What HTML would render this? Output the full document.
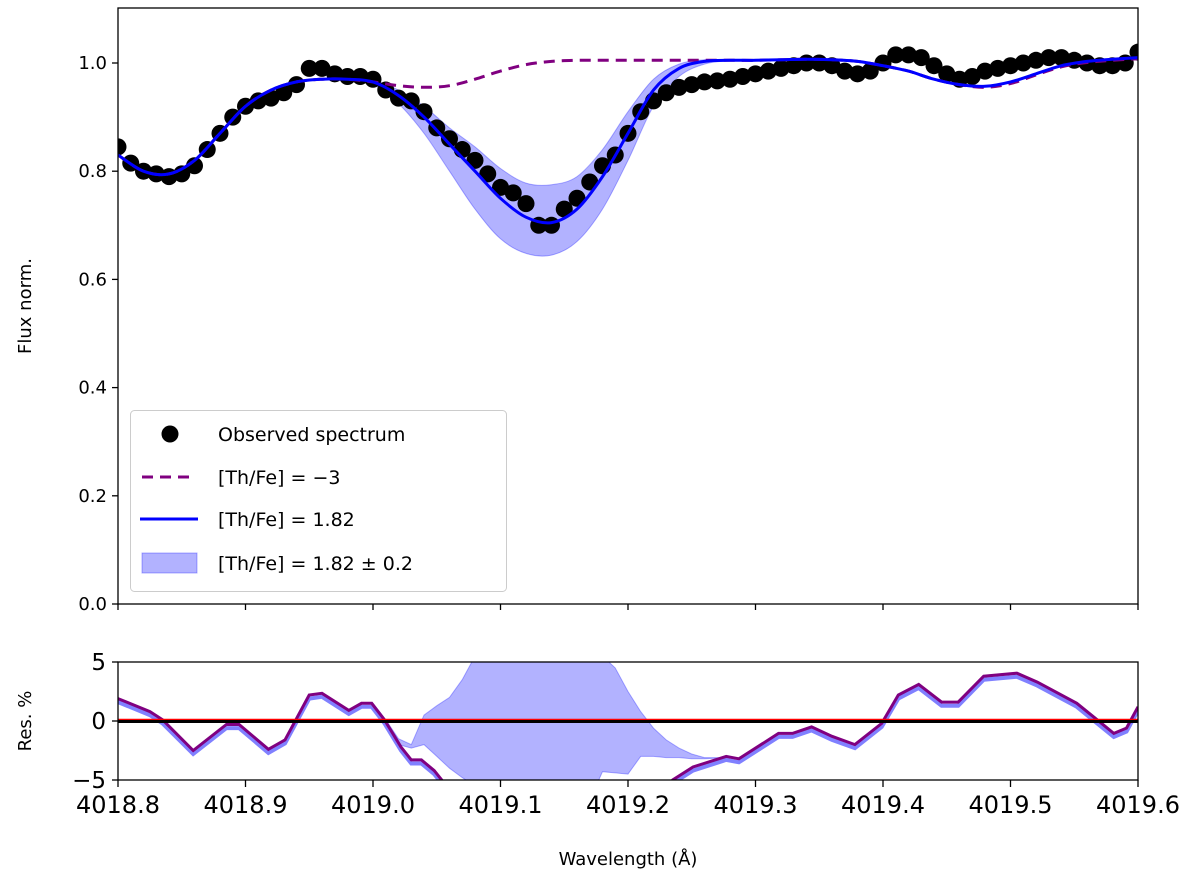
<!DOCTYPE html>
<html><head><meta charset="utf-8"><style>
html,body{margin:0;padding:0;background:#fff;overflow:hidden;width:1200px;height:887px}
svg{display:block}
svg text{font-family:"DejaVu Sans","Liberation Sans",sans-serif;fill:#000}
</style></head><body>
<svg id="chart" width="1200" height="887" xmlns="http://www.w3.org/2000/svg">
<defs>
<clipPath id="clipTop"><rect x="118" y="8" width="1020" height="596"/></clipPath>
<clipPath id="clipBot"><rect x="118" y="662" width="1020" height="118"/></clipPath>
</defs>
<g id="topPanel"></g>
<g id="botPanel"></g>
</svg>
<script>
const obsX=[4018.80,4018.81,4018.82,4018.83,4018.84,4018.85,4018.86,4018.87,4018.88,4018.89,4018.90,4018.91,4018.92,4018.93,4018.94,4018.95,4018.96,4018.97,4018.98,4018.99,4019.00,4019.01,4019.02,4019.03,4019.04,4019.05,4019.06,4019.07,4019.08,4019.09,4019.10,4019.11,4019.12,4019.13,4019.14,4019.15,4019.16,4019.17,4019.18,4019.19,4019.20,4019.21,4019.22,4019.23,4019.24,4019.25,4019.26,4019.27,4019.28,4019.29,4019.30,4019.31,4019.32,4019.33,4019.34,4019.35,4019.36,4019.37,4019.38,4019.39,4019.40,4019.41,4019.42,4019.43,4019.44,4019.45,4019.46,4019.47,4019.48,4019.49,4019.50,4019.51,4019.52,4019.53,4019.54,4019.55,4019.56,4019.57,4019.58,4019.59,4019.60];
const obsY=[0.845,0.815,0.80,0.795,0.79,0.795,0.81,0.84,0.87,0.90,0.92,0.93,0.935,0.945,0.96,0.99,0.99,0.98,0.975,0.975,0.97,0.95,0.935,0.93,0.91,0.88,0.86,0.84,0.82,0.795,0.77,0.76,0.74,0.70,0.70,0.73,0.75,0.78,0.81,0.83,0.87,0.91,0.93,0.945,0.955,0.96,0.965,0.967,0.97,0.975,0.98,0.985,0.99,0.995,1.0,1.0,0.995,0.985,0.98,0.985,1.0,1.015,1.015,1.01,0.995,0.98,0.97,0.975,0.985,0.99,0.995,1.0,1.005,1.01,1.01,1.005,1.0,0.995,0.995,1.0,1.02];
const modX=[4018.80,4018.82,4018.84,4018.86,4018.88,4018.90,4018.92,4018.94,4018.96,4018.98,4019.00,4019.02,4019.04,4019.06,4019.08,4019.10,4019.12,4019.14,4019.16,4019.18,4019.20,4019.22,4019.24,4019.26,4019.28,4019.30,4019.32,4019.34,4019.36,4019.38,4019.40,4019.42,4019.44,4019.46,4019.48,4019.50,4019.52,4019.54,4019.56,4019.58,4019.60];
const modY=[0.83,0.80,0.795,0.82,0.87,0.92,0.95,0.965,0.97,0.97,0.965,0.94,0.90,0.85,0.80,0.75,0.715,0.705,0.73,0.79,0.87,0.95,0.99,1.003,1.005,1.005,1.006,1.007,1.006,1.003,0.995,0.985,0.97,0.96,0.957,0.965,0.98,0.995,1.003,1.007,1.01];
const lowY=[0.83,0.80,0.795,0.82,0.87,0.92,0.95,0.965,0.97,0.97,0.96,0.925,0.87,0.80,0.73,0.675,0.648,0.645,0.67,0.73,0.82,0.92,0.975,0.998,1.004,1.005,1.006,1.007,1.006,1.003,0.995,0.985,0.97,0.96,0.957,0.965,0.98,0.995,1.003,1.007,1.01];
const highY=[0.83,0.80,0.795,0.82,0.87,0.92,0.95,0.965,0.97,0.97,0.968,0.95,0.92,0.88,0.845,0.805,0.778,0.775,0.79,0.84,0.91,0.97,0.998,1.006,1.006,1.005,1.006,1.007,1.006,1.003,0.995,0.985,0.97,0.96,0.957,0.965,0.98,0.995,1.003,1.007,1.01];
const noThY=[0.83,0.80,0.795,0.82,0.87,0.92,0.95,0.965,0.97,0.97,0.965,0.958,0.955,0.958,0.97,0.985,0.997,1.003,1.005,1.005,1.005,1.005,1.005,1.005,1.005,1.005,1.006,1.007,1.006,1.003,0.995,0.985,0.97,0.96,0.955,0.962,0.978,0.993,1.001,1.005,1.008];
const resX=[4018.800,4018.825,4018.835,4018.859,4018.885,4018.895,4018.918,4018.931,4018.950,4018.960,4018.981,4018.991,4018.999,4019.009,4019.022,4019.030,4019.038,4019.048,4019.054,4019.080,4019.120,4019.160,4019.200,4019.225,4019.235,4019.251,4019.277,4019.287,4019.318,4019.329,4019.344,4019.360,4019.378,4019.399,4019.412,4019.428,4019.446,4019.459,4019.479,4019.505,4019.521,4019.552,4019.568,4019.581,4019.591,4019.600];
const resY=[1.9,0.8,0.1,-2.5,-0.3,-0.3,-2.4,-1.6,2.2,2.35,0.9,1.5,1.5,0.1,-2.2,-3.3,-3.3,-4.2,-5.0,-9,-9,-9,-9,-6.5,-5.0,-3.9,-3.0,-3.2,-1.05,-1.05,-0.5,-1.3,-2.0,-0.2,2.2,3.1,1.6,1.6,3.8,4.05,3.3,1.5,0.1,-1.05,-0.6,1.2];
const bandX=[4019.000,4019.010,4019.020,4019.030,4019.040,4019.050,4019.060,4019.070,4019.080,4019.100,4019.140,4019.175,4019.180,4019.190,4019.200,4019.210,4019.220,4019.230,4019.240,4019.250,4019.260,4019.280];
const bandUp=[1.5,0.1,-1.5,-2.0,0.5,1.3,2.0,3.5,5.5,9,10,6.5,5.5,4.5,2.5,0.8,-0.6,-1.6,-2.3,-2.8,-3.1,-3.1];
const bandLo=[1.5,0.1,-2.0,-2.3,-2.0,-3.0,-4.0,-4.8,-5.5,-9,-9,-5.5,-4.3,-4.4,-4.5,-3.0,-3.0,-3.1,-3.1,-3.2,-3.2,-3.1];
const xTicks=[4018.8,4018.9,4019.0,4019.1,4019.2,4019.3,4019.4,4019.5,4019.6];
const yTicks=[0.0,0.2,0.4,0.6,0.8,1.0];
const rTicks=[-5,0,5];

const NS="http://www.w3.org/2000/svg";
const X=v=>118+(v-4018.8)/0.8*1020;
const Y=v=>604-v*541;
const R=v=>721-v*11.8;
function mk(p,tag,at,txt){const e=document.createElementNS(NS,tag);for(const k in at)e.setAttribute(k,at[k]);if(txt!==undefined)e.textContent=txt;p.appendChild(e);return e;}
function smooth(xs,ys,fx,fy){const P=xs.map((x,i)=>[fx(x),fy(ys[i])]);let d="M"+P[0][0].toFixed(1)+","+P[0][1].toFixed(1);
for(let i=0;i<P.length-1;i++){const p0=P[Math.max(0,i-1)],p1=P[i],p2=P[i+1],p3=P[Math.min(P.length-1,i+2)];
d+=" C"+(p1[0]+(p2[0]-p0[0])/6).toFixed(1)+","+(p1[1]+(p2[1]-p0[1])/6).toFixed(1)+" "+(p2[0]-(p3[0]-p1[0])/6).toFixed(1)+","+(p2[1]-(p3[1]-p1[1])/6).toFixed(1)+" "+p2[0].toFixed(1)+","+p2[1].toFixed(1);}return d;}
function poly(xs,ys,fx,fy){return xs.map((x,i)=>(i?"L":"M")+fx(x).toFixed(1)+","+fy(ys[i]).toFixed(1)).join(" ");}

const topG=document.getElementById('topPanel'),botG=document.getElementById('botPanel');
const gT=mk(topG,'g',{'clip-path':'url(#clipTop)'});
const bd=smooth(modX,highY,X,Y);const rev=smooth(modX.slice().reverse(),lowY.slice().reverse(),X,Y);
const band=mk(gT,'path',{d:bd+" L"+rev.slice(1)+" Z",fill:'#0000ff','fill-opacity':0.3,stroke:'#0000ff','stroke-opacity':0.3});


obsX.forEach((x,i)=>{const c=mk(gT,'circle',{cx:X(x),cy:Y(obsY[i]),r:8.5,fill:'#000'});

});
const dl=mk(gT,'path',{d:smooth(modX,noThY,X,Y),fill:'none',stroke:'#800080','stroke-width':3,'stroke-dasharray':'11,7'});


const bl=mk(gT,'path',{d:smooth(modX,modY,X,Y),fill:'none',stroke:'#0000ff','stroke-width':3});


const fr=mk(topG,'rect',{x:118,y:8,width:1020,height:596,fill:'none',stroke:'#000','stroke-width':1.3});


yTicks.forEach(v=>{mk(topG,'line',{x1:112,x2:118,y1:Y(v),y2:Y(v),stroke:'#000','stroke-width':1.3});
const t=mk(topG,'text',{x:107,y:Y(v)+6,'font-size':18,'text-anchor':'end'},v.toFixed(1));

});
xTicks.forEach(v=>{mk(topG,'line',{x1:X(v),x2:X(v),y1:604,y2:610,stroke:'#000','stroke-width':1.3});});
const yl=mk(topG,'text',{x:0,y:0,'font-size':18,'text-anchor':'middle',transform:'translate(31,306) rotate(-90)'},'Flux norm.');


const lg=mk(topG,'g',{});


mk(lg,'rect',{x:130.5,y:410.5,width:376,height:181,rx:4,fill:'#fff',stroke:'#ccc'});
mk(lg,'circle',{cx:170,cy:434,r:8.5,fill:'#000'});
mk(lg,'line',{x1:142,x2:196,y1:477,y2:477,stroke:'#800080','stroke-width':3,'stroke-dasharray':'11,7'});
mk(lg,'line',{x1:140,x2:198,y1:519,y2:519,stroke:'#0000ff','stroke-width':3});
mk(lg,'rect',{x:142,y:553,width:55,height:20,fill:'#0000ff','fill-opacity':0.3,stroke:'#0000ff','stroke-opacity':0.3});
const labs=['Observed spectrum','[Th/Fe] = −3','[Th/Fe] = 1.82','[Th/Fe] = 1.82 ± 0.2'],ly=[434,477,519,563];
labs.forEach((s,i)=>{const t=mk(lg,'text',{x:218,y:ly[i]+7,'font-size':19},s);

});
const gB=mk(botG,'g',{'clip-path':'url(#clipBot)'});
const rb=mk(gB,'path',{d:poly(bandX,bandUp,X,R)+" L"+poly(bandX.slice().reverse(),bandLo.slice().reverse(),X,R).slice(1)+" Z",fill:'#0000ff','fill-opacity':0.3,stroke:'#0000ff','stroke-opacity':0.3});


mk(gB,'path',{d:poly(resX,resY.map(v=>v-0.3),X,R),fill:'none',stroke:'#8080ff','stroke-width':4});
const rl=mk(gB,'path',{d:poly(resX,resY,X,R),fill:'none',stroke:'#800080','stroke-width':3});


mk(gB,'line',{x1:118,x2:1138,y1:R(0)-1.5,y2:R(0)-1.5,stroke:'#ff0000','stroke-width':1.5});
const zl=mk(gB,'line',{x1:118,x2:1138,y1:R(0)+0.5,y2:R(0)+0.5,stroke:'#000','stroke-width':3});


const fb=mk(botG,'rect',{x:118,y:662,width:1020,height:118,fill:'none',stroke:'#000','stroke-width':1.3});


rTicks.forEach(v=>{mk(botG,'line',{x1:112,x2:118,y1:R(v),y2:R(v),stroke:'#000','stroke-width':1.3});
const t=mk(botG,'text',{x:106,y:R(v)+8,'font-size':23,'text-anchor':'end'},v<0?'−'+(-v):String(v));

});
xTicks.forEach(v=>{mk(botG,'line',{x1:X(v),x2:X(v),y1:780,y2:787,stroke:'#000','stroke-width':1.3});
const t=mk(botG,'text',{x:X(v),y:813,'font-size':24,'text-anchor':'middle'},v.toFixed(1));

});
const rt=mk(botG,'text',{x:0,y:0,'font-size':18,'text-anchor':'middle',transform:'translate(31,721) rotate(-90)'},'Res. %');


const xt=mk(botG,'text',{x:628,y:865,'font-size':18,'text-anchor':'middle'},'Wavelength (Å)');


</script>
</body></html>
